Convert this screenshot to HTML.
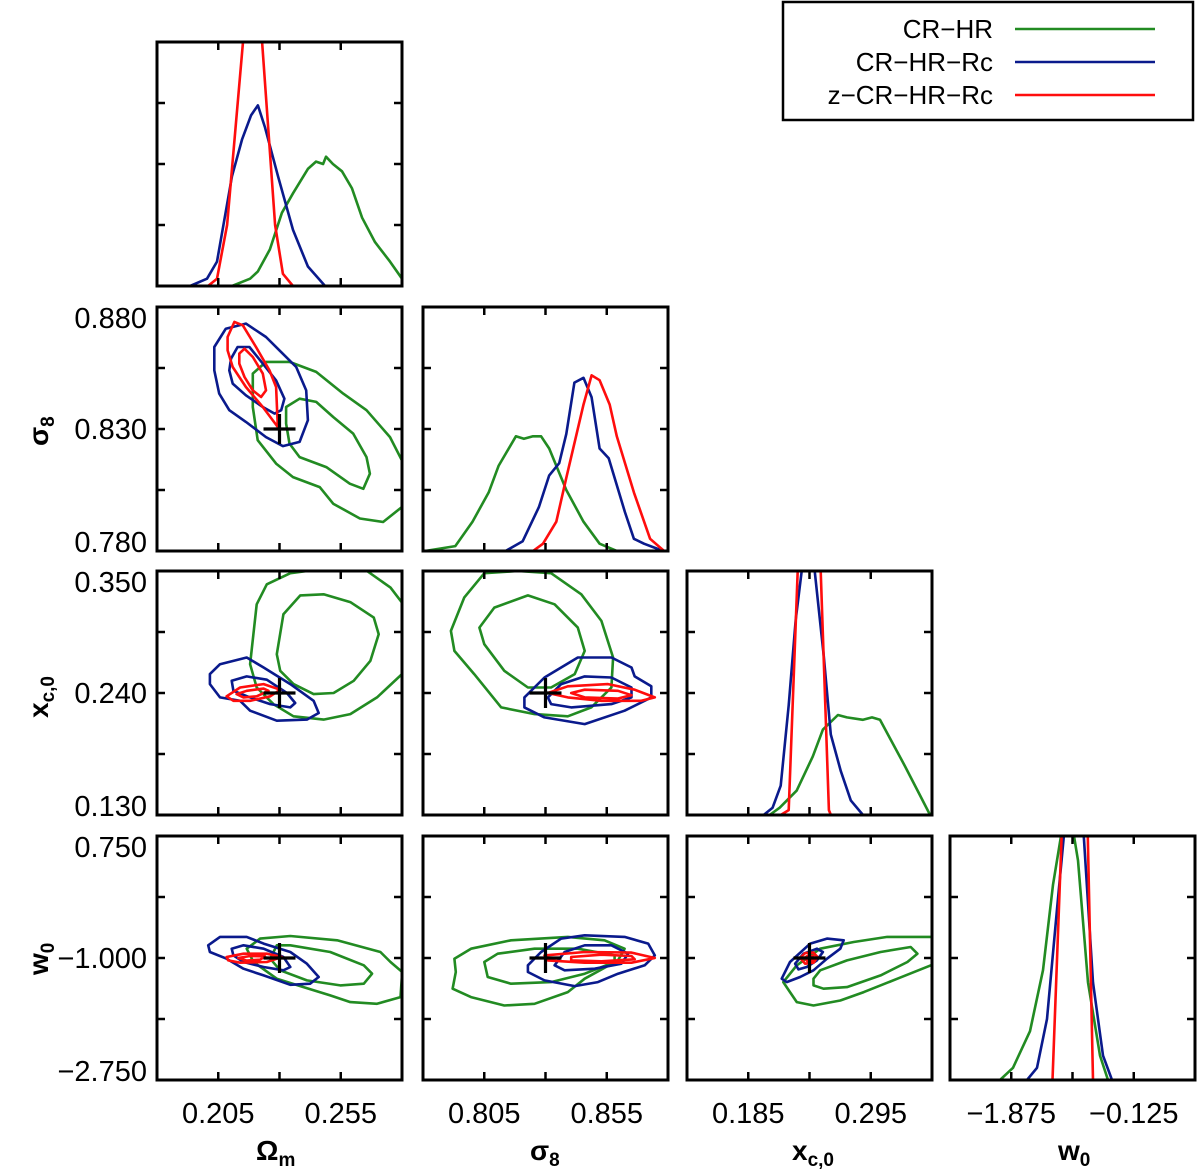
<!DOCTYPE html>
<html><head><meta charset="utf-8"><style>
body{margin:0;background:#fff;}
svg{display:block;font-family:"Liberation Sans",sans-serif;}
</style></head><body>
<svg id="fig" width="1200" height="1171" viewBox="0 0 1200 1171"></svg>
<script>
// ---- axis definitions ----
const paramNames=["Omega_m","sigma_8","x_c0","w_0"];
const domains=[[0.18,0.28],[0.78,0.88],[0.13,0.35],[-2.75,0.75]];
const colX=[157,423,687,950];
const rowY=[42,307,571,836];
const colors={green:"#228B22",blue:"#0a1a8c",red:"#ff0d0d"};
const yTickLabels=[null,["0.880","0.830","0.780"],["0.350","0.240","0.130"],["0.750","\u22121.000","\u22122.750"]];
const xTickLabels=[["0.205","0.255"],["0.805","0.855"],["0.185","0.295"],["\u22121.875","\u22120.125"]];
const truth=[0.23,0.83,0.24,-1.0];

// ---- 1D marginals (x in data units, h = height fraction of panel) ----
const h1_x_green=[0.18,0.2106,0.218,0.2212,0.2261,0.231,0.2355,0.2416,0.2449,0.2478,0.249,0.2518,0.2555,0.2596,0.2637,0.269,0.2751,0.28];
const h1_h_green=[0,0,0.03,0.06,0.15,0.3,0.38,0.48,0.51,0.5,0.53,0.5,0.47,0.4,0.28,0.18,0.1,0.03];
const h1_x_blue=[0.18,0.1935,0.2004,0.2045,0.2106,0.2147,0.2184,0.2212,0.2241,0.2294,0.2355,0.2416,0.2486,0.28];
const h1_h_blue=[0,0,0.03,0.1,0.45,0.6,0.7,0.74,0.65,0.45,0.23,0.08,0,0];
const h1_x_red=[0.18,0.2008,0.2045,0.2086,0.2151,0.2192,0.2229,0.2282,0.2314,0.2355,0.28];
const h1_h_red=[0,0,0.03,0.25,1.0,1.2,1.0,0.25,0.05,0,0];

const h2_x_green=[0.78,0.7808,0.7932,0.8002,0.8068,0.8109,0.8179,0.8212,0.8249,0.8282,0.8315,0.8385,0.8455,0.8521,0.8591,0.88];
const h2_h_green=[0,0,0.02,0.12,0.24,0.35,0.47,0.46,0.47,0.47,0.42,0.25,0.12,0.03,0,0];
const h2_x_blue=[0.78,0.8137,0.8207,0.8273,0.8315,0.8356,0.8385,0.8418,0.8455,0.8488,0.8521,0.8558,0.8624,0.8661,0.8702,0.8755,0.8784,0.88];
const h2_h_blue=[0,0,0.04,0.18,0.31,0.36,0.48,0.69,0.71,0.63,0.42,0.38,0.16,0.05,0.03,0.01,0,0];
const h2_x_red=[0.78,0.8249,0.829,0.8344,0.8385,0.8455,0.8488,0.8521,0.8562,0.8591,0.8661,0.8727,0.8784,0.88];
const h2_h_red=[0,0,0.03,0.12,0.3,0.6,0.72,0.7,0.6,0.47,0.24,0.05,0,0];

const h3_x_green=[0.13,0.2042,0.2132,0.2285,0.2430,0.2520,0.2655,0.2736,0.2880,0.2961,0.3033,0.3258,0.3393,0.3483,0.35];
const h3_h_green=[0,0,0.03,0.1,0.24,0.35,0.41,0.4,0.39,0.4,0.39,0.2,0.08,0,0];
const h3_x_blue=[0.13,0.1988,0.2069,0.2141,0.2213,0.2276,0.2330,0.2393,0.2447,0.2528,0.2591,0.2681,0.2771,0.2880,0.35];
const h3_h_blue=[0,0,0.03,0.12,0.45,0.8,1.0,1.1,1.0,0.65,0.33,0.18,0.06,0,0];
const h3_x_red=[0.13,0.2141,0.2213,0.2294,0.2393,0.2501,0.2574,0.2592,0.35];
const h3_h_red=[0,0,0.02,1.0,1.2,1.0,0.02,0,0];

const h4_x_green=[-2.75,-2.036,-1.85,-1.607,-1.421,-1.279,-1.136,-1.036,-0.921,-0.779,-0.607,-0.493,0.75];
const h4_h_green=[0,0,0.05,0.2,0.45,0.8,1.05,1.1,0.9,0.4,0.1,0,0];
const h4_x_blue=[-2.75,-1.65,-1.507,-1.364,-1.221,-1.107,-0.85,-0.707,-0.564,-0.436,0.75];
const h4_h_blue=[0,0,0.05,0.25,0.7,1.05,1.05,0.4,0.1,0,0];
const h4_x_red=[-2.75,-1.286,-1.136,-0.793,-0.707,0.75];
const h4_h_red=[0,0,1.15,1.15,0,0];

// ---- 2D contours (x,y pairs in data units) ----
const c_om_s8_green_outer=[[0.2191,0.8527],[0.2245,0.8575],[0.2341,0.8575],[0.245,0.8534],[0.256,0.8445],[0.2655,0.8377],[0.2751,0.8267],[0.2799,0.8172],[0.2833,0.8117],[0.2799,0.798],[0.2723,0.7919],[0.2628,0.7933],[0.2519,0.7994],[0.2464,0.8062],[0.2355,0.8103],[0.2286,0.8158],[0.2211,0.8254],[0.2191,0.839]];
const c_om_s8_green_inner=[[0.2327,0.839],[0.2382,0.8424],[0.245,0.8411],[0.2519,0.8349],[0.2601,0.8281],[0.2655,0.8185],[0.2669,0.8117],[0.2642,0.8055],[0.2587,0.8076],[0.2491,0.8144],[0.2382,0.8185],[0.2341,0.824],[0.2327,0.8322]];
const c_om_s8_blue_outer=[[0.2034,0.8636],[0.2081,0.8711],[0.2163,0.8732],[0.2245,0.8677],[0.23,0.8622],[0.2368,0.8554],[0.2409,0.8458],[0.2416,0.8336],[0.2382,0.8247],[0.2314,0.823],[0.2245,0.8267],[0.2163,0.8329],[0.2095,0.8377],[0.2054,0.8445],[0.2034,0.854]];
const c_om_s8_blue_inner=[[0.2102,0.8588],[0.2129,0.8636],[0.2177,0.8636],[0.2232,0.8568],[0.2286,0.8499],[0.232,0.8424],[0.2307,0.8377],[0.228,0.8363],[0.2232,0.839],[0.2163,0.8438],[0.2109,0.8486],[0.2095,0.854]];
const c_om_s8_red_outer=[[0.2088,0.8677],[0.2116,0.8739],[0.215,0.8725],[0.2204,0.8636],[0.2259,0.854],[0.2286,0.8472],[0.2293,0.8308],[0.2232,0.839],[0.2163,0.8472],[0.2109,0.8554],[0.2088,0.8622]];
const c_om_s8_red_inner=[[0.2136,0.8609],[0.2157,0.8629],[0.2191,0.8595],[0.2232,0.8527],[0.2245,0.8458],[0.2225,0.8431],[0.2191,0.8458],[0.2157,0.8513],[0.2136,0.8568]];

const c_om_xc_green_outer=[[0.218,0.266],[0.2207,0.32],[0.2248,0.338],[0.2344,0.348],[0.248,0.352],[0.2657,0.35],[0.2753,0.335],[0.284,0.31],[0.285,0.28],[0.28,0.257],[0.2698,0.236],[0.2589,0.221],[0.248,0.216],[0.2357,0.219],[0.2275,0.23],[0.2207,0.245]];
const c_om_xc_green_inner=[[0.2289,0.275],[0.2316,0.311],[0.2385,0.328],[0.248,0.329],[0.2589,0.322],[0.2685,0.308],[0.2705,0.293],[0.2671,0.269],[0.2603,0.251],[0.2521,0.24],[0.2439,0.239],[0.2357,0.248],[0.2303,0.26]];
const c_om_xc_blue_outer=[[0.2016,0.257],[0.2057,0.266],[0.2166,0.272],[0.2235,0.263],[0.2344,0.248],[0.2439,0.233],[0.246,0.222],[0.2412,0.216],[0.2289,0.215],[0.218,0.224],[0.2139,0.233],[0.2057,0.236],[0.2016,0.248]];
const c_om_xc_blue_inner=[[0.2105,0.251],[0.2166,0.255],[0.2248,0.252],[0.233,0.24],[0.2364,0.231],[0.2344,0.227],[0.2262,0.23],[0.218,0.236],[0.2112,0.242]];
const c_om_xc_red_outer=[[0.2084,0.237],[0.2139,0.245],[0.2235,0.248],[0.2303,0.243],[0.2262,0.237],[0.218,0.233],[0.2112,0.233]];
const c_om_xc_red_inner=[[0.2125,0.239],[0.2166,0.242],[0.2235,0.244],[0.2255,0.242],[0.2207,0.237],[0.2153,0.236]];

const c_s8_xc_green_outer=[[0.7914,0.296],[0.7968,0.326],[0.805,0.348],[0.8187,0.35],[0.8323,0.348],[0.8446,0.329],[0.8528,0.305],[0.8576,0.272],[0.8569,0.245],[0.8487,0.227],[0.8391,0.219],[0.8255,0.221],[0.8119,0.227],[0.8009,0.257],[0.7928,0.278]];
const c_s8_xc_green_inner=[[0.803,0.299],[0.8091,0.317],[0.8228,0.328],[0.8337,0.32],[0.8432,0.299],[0.846,0.278],[0.8419,0.257],[0.8323,0.245],[0.8228,0.245],[0.8132,0.26],[0.805,0.284]];
const c_s8_xc_blue_outer=[[0.8214,0.236],[0.8296,0.254],[0.8432,0.272],[0.8569,0.272],[0.8651,0.263],[0.8664,0.255],[0.8732,0.246],[0.8732,0.236],[0.8623,0.224],[0.846,0.212],[0.8296,0.218],[0.8214,0.227]];
const c_s8_xc_blue_inner=[[0.831,0.236],[0.8364,0.248],[0.846,0.255],[0.8569,0.254],[0.8651,0.245],[0.8651,0.236],[0.8569,0.23],[0.8405,0.227],[0.8323,0.23]];
const c_s8_xc_red_outer=[[0.831,0.24],[0.8391,0.246],[0.8555,0.248],[0.8664,0.243],[0.8746,0.236],[0.8691,0.233],[0.8528,0.233],[0.8391,0.236]];
const c_s8_xc_red_inner=[[0.8405,0.24],[0.846,0.243],[0.8596,0.242],[0.8651,0.238],[0.8596,0.235],[0.846,0.236]];

const c_om_w0_green_outer=[[0.2166,-0.866],[0.2221,-0.722],[0.2344,-0.684],[0.2535,-0.746],[0.2712,-0.914],[0.2753,-1.058],[0.2801,-1.201],[0.2794,-1.561],[0.2698,-1.657],[0.2589,-1.633],[0.2507,-1.537],[0.2398,-1.417],[0.2289,-1.297],[0.2194,-1.058]];
const c_om_w0_green_inner=[[0.2289,-0.818],[0.2344,-0.818],[0.2507,-0.914],[0.2644,-1.105],[0.2678,-1.225],[0.2644,-1.369],[0.2548,-1.393],[0.2412,-1.321],[0.2303,-1.177],[0.2262,-1.01]];
const c_om_w0_blue_outer=[[0.2009,-0.818],[0.2057,-0.698],[0.2166,-0.698],[0.2235,-0.794],[0.2344,-0.914],[0.2412,-1.082],[0.246,-1.273],[0.2425,-1.369],[0.2344,-1.384],[0.2235,-1.249],[0.2153,-1.153],[0.2084,-1.01],[0.2016,-0.914]];
const c_om_w0_blue_inner=[[0.2105,-0.866],[0.2153,-0.818],[0.2235,-0.866],[0.2316,-0.986],[0.2344,-1.129],[0.2316,-1.177],[0.2235,-1.129],[0.2153,-1.058],[0.2112,-0.962]];
const c_om_w0_red_outer=[[0.2084,-0.986],[0.2153,-0.938],[0.2248,-0.938],[0.231,-0.986],[0.2248,-1.058],[0.2139,-1.067],[0.2091,-1.034]];
const c_om_w0_red_inner=[[0.2132,-1.0],[0.218,-0.971],[0.2241,-0.976],[0.2221,-1.024],[0.2166,-1.038]];

const c_s8_w0_green_outer=[[0.7928,-1.01],[0.7996,-0.866],[0.8159,-0.746],[0.8391,-0.698],[0.8541,-0.746],[0.8623,-0.866],[0.8596,-1.034],[0.846,-1.297],[0.8391,-1.489],[0.8255,-1.657],[0.8132,-1.681],[0.7996,-1.561],[0.7921,-1.441],[0.7934,-1.201]];
const c_s8_w0_green_inner=[[0.805,-1.058],[0.8105,-0.938],[0.8255,-0.866],[0.8432,-0.866],[0.8582,-0.962],[0.8582,-1.058],[0.846,-1.225],[0.8323,-1.345],[0.8159,-1.369],[0.8064,-1.273]];
const c_s8_w0_blue_outer=[[0.8228,-1.105],[0.8282,-0.914],[0.8364,-0.722],[0.846,-0.674],[0.8623,-0.698],[0.8719,-0.794],[0.8746,-0.962],[0.8705,-1.105],[0.8596,-1.225],[0.8514,-1.345],[0.8419,-1.403],[0.8296,-1.321],[0.8228,-1.201]];
const c_s8_w0_blue_inner=[[0.8337,-1.105],[0.8378,-0.914],[0.846,-0.818],[0.8569,-0.818],[0.8637,-0.938],[0.861,-1.082],[0.8501,-1.153],[0.8378,-1.177]];
const c_s8_w0_red_outer=[[0.8296,-0.962],[0.846,-0.914],[0.8651,-0.923],[0.8746,-1.0],[0.8651,-1.067],[0.846,-1.067],[0.831,-1.034]];
const c_s8_w0_red_inner=[[0.8405,-0.986],[0.8528,-0.952],[0.8651,-0.971],[0.8664,-1.019],[0.8528,-1.048],[0.8405,-1.034]];

const c_xc_w0_green_outer=[[0.2165,-1.345],[0.2286,-1.105],[0.2496,-0.866],[0.2797,-0.77],[0.3098,-0.698],[0.349,-0.698],[0.358,-0.722],[0.358,-1.058],[0.349,-1.105],[0.3189,-1.297],[0.2888,-1.489],[0.2677,-1.609],[0.2436,-1.681],[0.2286,-1.633],[0.2225,-1.489]];
const c_xc_w0_green_inner=[[0.2436,-1.297],[0.2496,-1.177],[0.2737,-1.034],[0.3038,-0.914],[0.3309,-0.842],[0.3369,-0.938],[0.3279,-1.058],[0.3038,-1.249],[0.2737,-1.417],[0.2526,-1.441],[0.2436,-1.393]];
const c_xc_w0_blue_outer=[[0.215,-1.297],[0.2225,-1.058],[0.2406,-0.794],[0.2557,-0.722],[0.2707,-0.746],[0.2677,-0.866],[0.2557,-1.01],[0.2436,-1.177],[0.2316,-1.273],[0.2195,-1.345]];
const c_xc_w0_blue_inner=[[0.2271,-1.082],[0.2346,-0.938],[0.2466,-0.866],[0.252,-0.914],[0.2466,-1.034],[0.2376,-1.129],[0.2301,-1.163]];
const c_xc_w0_red_outer=[[0.2316,-1.0],[0.2361,-0.928],[0.2436,-0.923],[0.2472,-0.986],[0.2436,-1.067],[0.2361,-1.082]];
const c_xc_w0_red_inner=[[0.2352,-1.0],[0.2391,-0.962],[0.2436,-0.971],[0.243,-1.034],[0.2382,-1.048]];

// ---- drawing ----
const NS="http://www.w3.org/2000/svg";
const svg=document.getElementById("fig");
const PW=245, PH=244;
function mk(tag,attrs,parent){const e=document.createElementNS(NS,tag);for(const k in attrs)e.setAttribute(k,attrs[k]);(parent||svg).appendChild(e);return e;}
function sx(col,v){const d=domains[col];return colX[col]+(v-d[0])/(d[1]-d[0])*PW;}
function sy(row,v){const d=domains[row];return rowY[row]+PH-(v-d[0])/(d[1]-d[0])*PH;}
function hy(row,h){return rowY[row]+PH-h*PH;}

const defs=mk("defs",{});
function panel(row,col){
  const id="clip"+row+col;
  const cp=mk("clipPath",{id:id},defs);
  mk("rect",{x:colX[col],y:rowY[row],width:PW,height:PH},cp);
  const g=mk("g",{"clip-path":"url(#"+id+")"});
  
  
  return g;
}
function frame(row,col){
  const x0=colX[col],y0=rowY[row];
  const f=mk("rect",{x:x0,y:y0,width:PW,height:PH,fill:"none",stroke:"#000","stroke-width":3});
  
  
  for(let i=1;i<=3;i++){
    const tx=x0+PW*i/4, ty=y0+PH*i/4;
    mk("line",{x1:tx,y1:y0,x2:tx,y2:y0+8,stroke:"#000","stroke-width":2.5});
    mk("line",{x1:tx,y1:y0+PH,x2:tx,y2:y0+PH-8,stroke:"#000","stroke-width":2.5});
    mk("line",{x1:x0,y1:ty,x2:x0+8,y2:ty,stroke:"#000","stroke-width":2.5});
    mk("line",{x1:x0+PW,y1:ty,x2:x0+PW-8,y2:ty,stroke:"#000","stroke-width":2.5});
  }
}
function hist(g,row,xs,hs,color,name){
  const pts=xs.map((v,i)=>sx(row,v).toFixed(1)+","+hy(row,hs[i]).toFixed(1)).join(" ");
  const p=mk("polyline",{points:pts,fill:"none",stroke:color,"stroke-width":2.6,"stroke-linejoin":"round"},g);
  
  
}
function contour(g,row,col,pts,color,name){
  const s=pts.map(p=>sx(col,p[0]).toFixed(1)+","+sy(row,p[1]).toFixed(1)).join(" ");
  const p=mk("polygon",{points:s,fill:"none",stroke:color,"stroke-width":2.6,"stroke-linejoin":"round"},g);
  
  
}
function cross(g,row,col){
  const cx=sx(col,truth[col]),cy=sy(row,truth[row]);
  const c=mk("path",{d:`M${cx-16},${cy}H${cx+16}M${cx},${cy-15}V${cy+15}`,stroke:"#000","stroke-width":3.2,fill:"none"},g);
  
  
}

const H=[[h1_x_green,h1_h_green,h1_x_blue,h1_h_blue,h1_x_red,h1_h_red],
         [h2_x_green,h2_h_green,h2_x_blue,h2_h_blue,h2_x_red,h2_h_red],
         [h3_x_green,h3_h_green,h3_x_blue,h3_h_blue,h3_x_red,h3_h_red],
         [h4_x_green,h4_h_green,h4_x_blue,h4_h_blue,h4_x_red,h4_h_red]];
for(let i=0;i<4;i++){
  const g=panel(i,i);
  hist(g,i,H[i][0],H[i][1],colors.green,"hist-cr-hr");
  hist(g,i,H[i][2],H[i][3],colors.blue,"hist-cr-hr-rc");
  hist(g,i,H[i][4],H[i][5],colors.red,"hist-z-cr-hr-rc");
  frame(i,i);
}
const C={"1,0":[c_om_s8_green_outer,c_om_s8_green_inner,c_om_s8_blue_outer,c_om_s8_blue_inner,c_om_s8_red_outer,c_om_s8_red_inner],
 "2,0":[c_om_xc_green_outer,c_om_xc_green_inner,c_om_xc_blue_outer,c_om_xc_blue_inner,c_om_xc_red_outer,c_om_xc_red_inner],
 "2,1":[c_s8_xc_green_outer,c_s8_xc_green_inner,c_s8_xc_blue_outer,c_s8_xc_blue_inner,c_s8_xc_red_outer,c_s8_xc_red_inner],
 "3,0":[c_om_w0_green_outer,c_om_w0_green_inner,c_om_w0_blue_outer,c_om_w0_blue_inner,c_om_w0_red_outer,c_om_w0_red_inner],
 "3,1":[c_s8_w0_green_outer,c_s8_w0_green_inner,c_s8_w0_blue_outer,c_s8_w0_blue_inner,c_s8_w0_red_outer,c_s8_w0_red_inner],
 "3,2":[c_xc_w0_green_outer,c_xc_w0_green_inner,c_xc_w0_blue_outer,c_xc_w0_blue_inner,c_xc_w0_red_outer,c_xc_w0_red_inner]};
const cc=[colors.green,colors.green,colors.blue,colors.blue,colors.red,colors.red];
const cn=["contour-cr-hr-2sigma","contour-cr-hr-1sigma","contour-cr-hr-rc-2sigma","contour-cr-hr-rc-1sigma","contour-z-cr-hr-rc-2sigma","contour-z-cr-hr-rc-1sigma"];
for(const key in C){
  const [r,c]=key.split(",").map(Number);
  const g=panel(r,c);
  C[key].forEach((pts,k)=>contour(g,r,c,pts,cc[k],cn[k]));
  cross(g,r,c);
  frame(r,c);
}
// y tick labels
for(let r=1;r<4;r++){
  const labs=yTickLabels[r];
  const ys=[rowY[r]+11,rowY[r]+PH/2,rowY[r]+PH-9];
  labs.forEach((t,i)=>{
    const e=mk("text",{x:147,y:ys[i]+10,"text-anchor":"end","font-size":29,fill:"#000"});
    e.textContent=t;
    
    
  });
}
// x tick labels
for(let c=0;c<4;c++){
  xTickLabels[c].forEach((t,i)=>{
    const e=mk("text",{x:colX[c]+PW*(i===0?0.25:0.75),y:1123,"text-anchor":"middle","font-size":29,fill:"#000"});
    e.textContent=t;
    
    
  });
}
</script>
<svg style="position:absolute;left:0;top:0" width="1200" height="1171">
  <g font-family="Liberation Sans, sans-serif" font-weight="bold" font-size="28">
    <text x="256" y="1160">Ω<tspan font-size="19" dy="6">m</tspan></text>
    <text x="530" y="1160">σ<tspan font-size="19" dy="6">8</tspan></text>
    <text x="792" y="1160">x<tspan font-size="19" dy="6">c,0</tspan></text>
    <text x="1058" y="1160">w<tspan font-size="19" dy="6">0</tspan></text>
    <text transform="translate(48,446) rotate(-90)">σ<tspan font-size="19" dy="6">8</tspan></text>
    <text transform="translate(48,718) rotate(-90)">x<tspan font-size="19" dy="6">c,0</tspan></text>
    <text transform="translate(48,975) rotate(-90)">w<tspan font-size="19" dy="6">0</tspan></text>
  </g>
  <g font-family="Liberation Sans, sans-serif" font-size="26">
    <rect x="783" y="2" width="410" height="118" fill="#fff" stroke="#000" stroke-width="2.5"/>
    <text x="993" y="38" text-anchor="end">CR−HR</text>
    <line x1="1015" y1="29" x2="1155" y2="29" stroke="#228B22" stroke-width="2.6"/>
    <text x="993" y="71" text-anchor="end">CR−HR−Rc</text>
    <line x1="1015" y1="62" x2="1155" y2="62" stroke="#0a1a8c" stroke-width="2.6"/>
    <text x="993" y="104" text-anchor="end">z−CR−HR−Rc</text>
    <line x1="1015" y1="95" x2="1155" y2="95" stroke="#ff0d0d" stroke-width="2.6"/>
  </g>
</svg>
</body></html>
